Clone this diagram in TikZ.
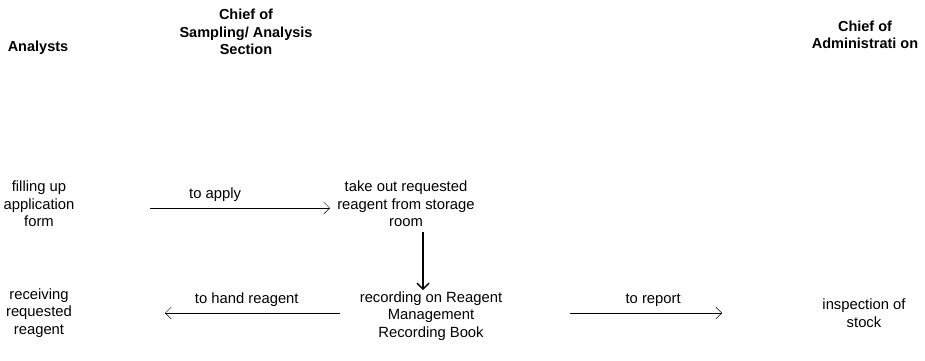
\documentclass[tikz,border=0pt]{standalone}
\usepackage{fontspec}
\setmainfont{Liberation Sans}
\usetikzlibrary{arrows.meta}

\begin{document}
\begin{tikzpicture}[x=1pt,y=-1pt,>={Straight Barb[length=6pt,width=12pt]},
	every node/.style={align=center,font=\fontsize{14.8}{17.5}\selectfont},
	head/.style={font=\fontsize{14.5}{17.5}\selectfont\bfseries}]
	\useasboundingbox (0,0) rectangle (925,360);
	% column heads
	\node[head] (h1) at (38,48) {Analysts};
	\node[head] (h2) at (246,32) {Chief of\\Sampling/ Analysis\\Section};
	\node[head] (h3) at (865,35) {Chief of\\Administrati on};
	% steps
	\node (a) at (39,204) {filling up\\application\\form};
	\node (b) at (406,204) {take out requested\\reagent from storage\\room};
	\node (c) at (431,316) {recording on Reagent\\Management\\Recording Book};
	\node (d) at (39,313) {receiving\\requested\\reagent};
	\node (e) at (864,313) {inspection of\\stock};
	% flows
	\draw[->,shorten <=111pt,shorten >=76pt] ([yshift=-4pt]a.center) -- ([yshift=-4pt]b.center)
		node[pos=0.48,above=3pt] {to apply};
	\draw[->,line width=1.4pt,shorten <=28pt,shorten >=26pt] ([xshift=17pt]b.center) -- ([xshift=17pt]b.center |- c.center);
	\draw[->,shorten <=91pt,shorten >=126pt] ([yshift=3pt]c.center) -- (d.center)
		node[pos=0.47,above=3pt] {to hand reagent};
	\draw[->,shorten <=139pt,shorten >=142pt] ([yshift=3pt]c.center) -- (e.center)
		node[pos=0.513,above=3pt] {to report};
\end{tikzpicture}
\end{document}
